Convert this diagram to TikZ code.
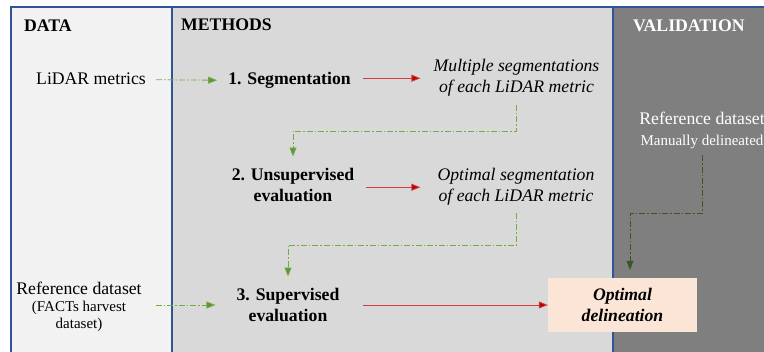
\documentclass[tikz,border=0pt]{standalone}
\usepackage{fontspec}
\setmainfont{Liberation Serif}
\usepackage{xcolor}
\usepackage{tikz}
\usetikzlibrary{arrows.meta, positioning}
\definecolor{dataGrey}{RGB}{242, 242, 242}
\definecolor{methodGrey}{RGB}{217, 217, 217}
\definecolor{validGrey}{RGB}{127, 127, 127}
\definecolor{frameBlue}{RGB}{47, 85, 151}
\definecolor{flowGreen}{RGB}{112, 173, 71}
\definecolor{validGreen}{RGB}{56, 87, 35}
\definecolor{flowRed}{RGB}{192, 0, 0}
\definecolor{delinPeach}{RGB}{251, 229, 214}

\begin{document}
\begin{tikzpicture}[x=1pt, y=-1pt,
				txt_main/.style   = {inner sep=5pt, align=center, font=\fontsize{17.7}{21}\selectfont},
				txt_step/.style   = {txt_main, font=\fontsize{17.7}{21}\selectfont\bfseries},
				txt_result/.style = {txt_main, font=\fontsize{17.7}{21}\selectfont\itshape},
				txt_head/.style   = {inner sep=0pt, anchor=base west, font=\fontsize{17.7}{21}\selectfont\bfseries},
				box_final/.style  = {fill=delinPeach, rectangle, minimum width=149pt, minimum height=54pt,
					align=center, font=\fontsize{17.7}{21}\selectfont\bfseries\itshape},
				flow_data/.style  = {-{Triangle[length=9pt, width=7pt, fill=flowGreen!85!black]}, flowGreen,
					line width=0.8pt, dash pattern=on 6pt off 2pt on 1.5pt off 2pt, shorten <=5pt, shorten >=6pt},
				flow_step/.style  = {-{Triangle[length=9pt, width=7pt, fill=flowRed]}, flowRed!75,
					line width=0.8pt, shorten <=7pt, shorten >=8pt},
				flow_valid/.style = {flow_data, validGreen, -{Triangle[length=9pt, width=7pt, fill=validGreen]}}
				]
				\useasboundingbox (0,0) rectangle (764,352);
				\fill[dataGrey] (11,7) rectangle (172,360);
				\fill[methodGrey] (172,7) rectangle (613,360);
				\fill[validGrey] (613,7) rectangle (790,360);
				\draw[frameBlue, line width=1.5pt] (11,360) -- (11,7) -- (790,7);
				\draw[frameBlue, line width=1.5pt] (172,7) -- (172,360);
				\draw[frameBlue, line width=1.5pt] (613,7) -- (613,360);
				
				\node[txt_head] (head_data) at (24,32) {DATA};
				\node[txt_head] (head_methods) at (181,31) {METHODS};
				\node[txt_head, text=white] (head_valid) at (633,32) {VALIDATION};
				
				% data column
				\node[txt_main, anchor=base] (lidar) at (91,85) {LiDAR metrics};
				\node[txt_main, anchor=base, font=\fontsize{15}{17}\selectfont] (refdata) at (79,329)
				{{\fontsize{17.7}{21}\selectfont Reference dataset}\\(FACTs harvest\\dataset)};
				
				% methods column
				\node[txt_step, anchor=base] (seg) at (289.5,85) {1. Segmentation};
				\node[txt_result, anchor=base] (multi) at (516.5,93) {Multiple segmentations\\of each LiDAR metric};
				\node[txt_step, anchor=base] (unsup) at (293,202) {2. Unsupervised\\evaluation};
				\node[txt_result, anchor=base] (optseg) at (516,202) {Optimal segmentation\\of each LiDAR metric};
				\node[txt_step, anchor=base] (sup) at (288,322) {3. Supervised\\evaluation};
				
				% validation column
				\node[txt_main, anchor=base, text=white] (valref) at (702,146)
				{Reference dataset\\{\fontsize{15}{17}\selectfont Manually delineated}};
				\node[box_final] (delin) at (622.5,305) {Optimal\\delineation};
				
				\draw[flow_data] (lidar) -- (seg);
				\draw[flow_data, shorten <=9pt, shorten >=16pt] (refdata.east |- delin) -- (sup.west |- delin);
				
				\draw[flow_step] (multi.west -| seg.east) -- (multi.west);
				\draw[flow_step, shorten >=12pt] (optseg.west -| unsup.east) -- (optseg.west);
				\draw[flow_step, shorten <=18pt, shorten >=0pt] (delin.west -| sup.east) -- (delin.west);
				
				\draw[flow_data, shorten <=3pt, shorten >=7pt] (multi.south) -- ++(0,29) -| (unsup.north);
				\draw[flow_data, shorten <=2pt, shorten >=7pt] (optseg.south) -- ++(0,34) -| (sup.north);
				\draw[flow_valid, shorten <=1pt, shorten >=8pt] (valref.south) -- ++(0,59) -| ([xshift=7.5pt]delin.north);
			\end{tikzpicture}
\end{document}
